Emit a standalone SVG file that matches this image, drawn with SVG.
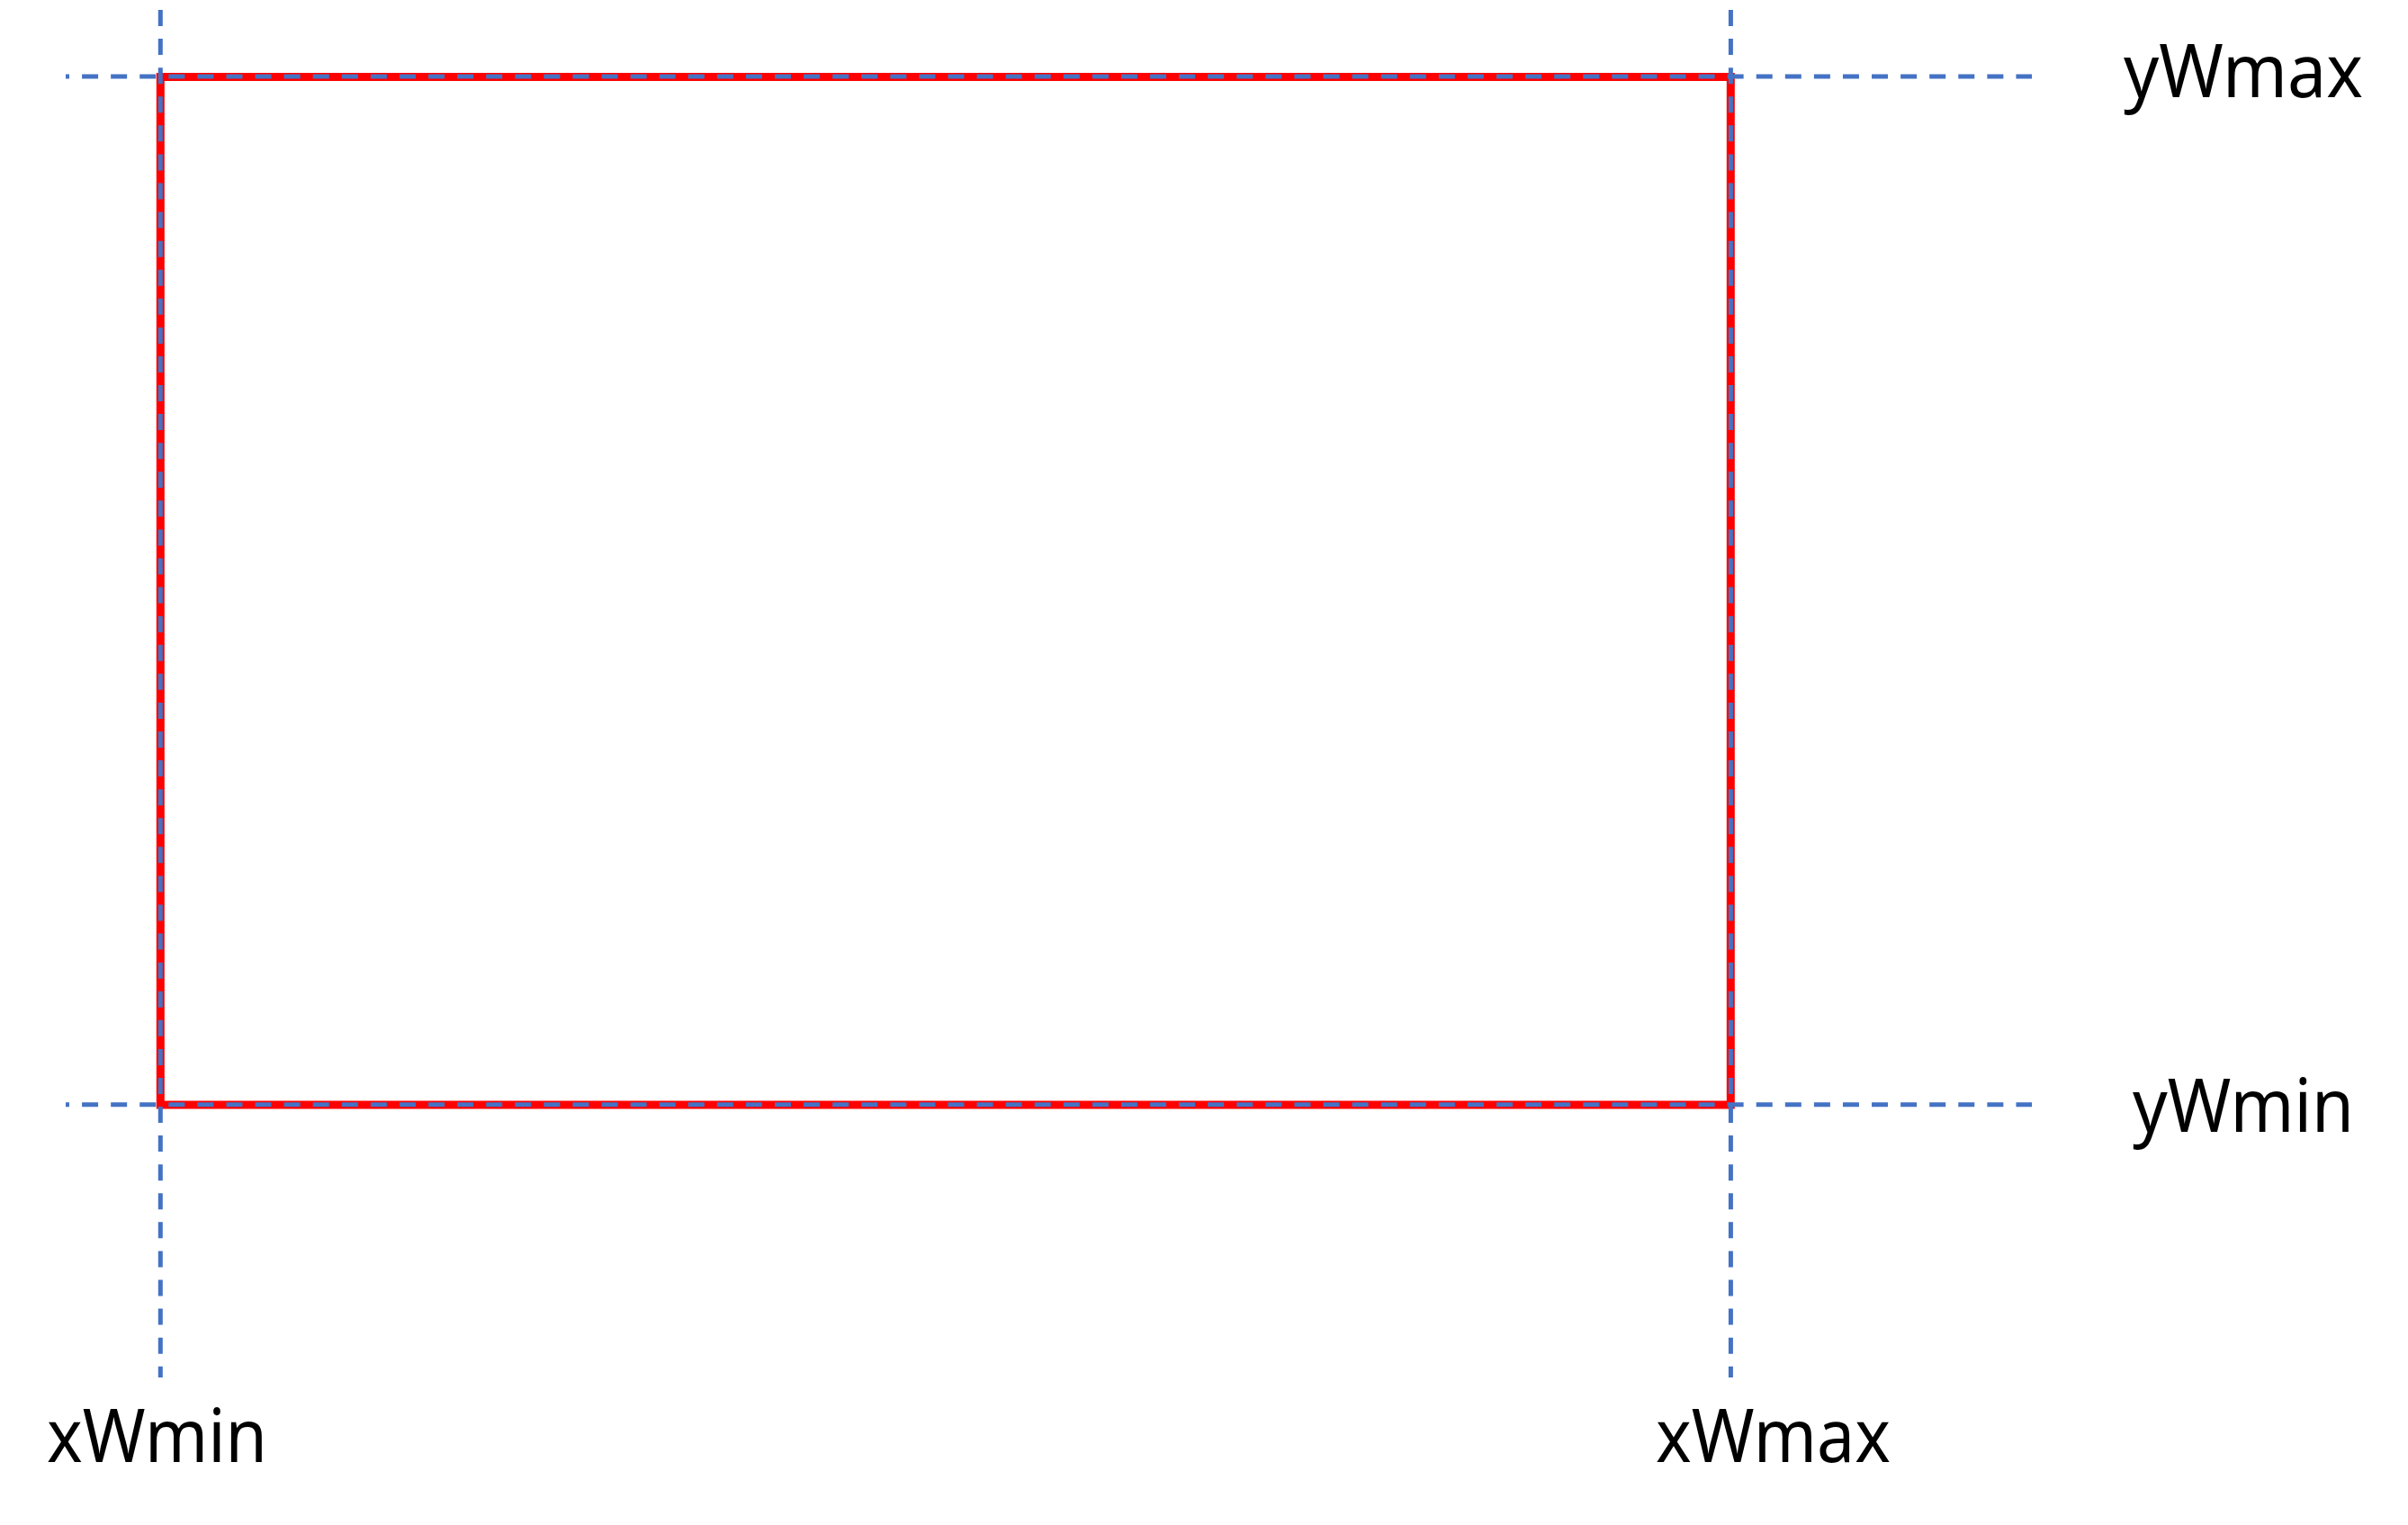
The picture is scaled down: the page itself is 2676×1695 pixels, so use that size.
<svg xmlns="http://www.w3.org/2000/svg" width="2676" height="1695" viewBox="0 0 2676 1695">
  <style>
    .guide { stroke: #4472C4; stroke-width: 5; fill: none; stroke-dasharray: 18 14.08; }
    .win { stroke: #FF0000; stroke-width: 9; fill: none; }
    .lbl { font-family: "Noto Sans", "Open Sans", "Liberation Sans", sans-serif; fill: #000000; font-size: 82px; }
  </style>
  <rect width="2676" height="1695" fill="#FFFFFF"/>
  <g id="window">
    <rect class="win" x="178.3" y="85.5" width="1745" height="1142.5"/>
  </g>
  <g id="guides">
    <line class="guide" x1="178.3" y1="11" x2="178.3" y2="1531"/>
    <line class="guide" x1="1923.4" y1="11" x2="1923.4" y2="1531"/>
    <line class="guide" x1="73" y1="85" x2="2258" y2="85" stroke-dashoffset="14"/>
    <line class="guide" x1="73" y1="1227.8" x2="2258" y2="1227.8" stroke-dashoffset="14"/>
  </g>
  <g id="labels">
    <text id="yWmax" class="lbl" x="2360" y="108" textLength="266" lengthAdjust="spacingAndGlyphs">yWmax</text>
    <text id="yWmin" class="lbl" x="2370" y="1258" textLength="246" lengthAdjust="spacingAndGlyphs">yWmin</text>
    <text id="xWmin" class="lbl" x="52" y="1625" textLength="245" lengthAdjust="spacingAndGlyphs">xWmin</text>
    <text id="xWmax" class="lbl" x="1840" y="1625" textLength="261" lengthAdjust="spacingAndGlyphs">xWmax</text>
  </g>
</svg>
